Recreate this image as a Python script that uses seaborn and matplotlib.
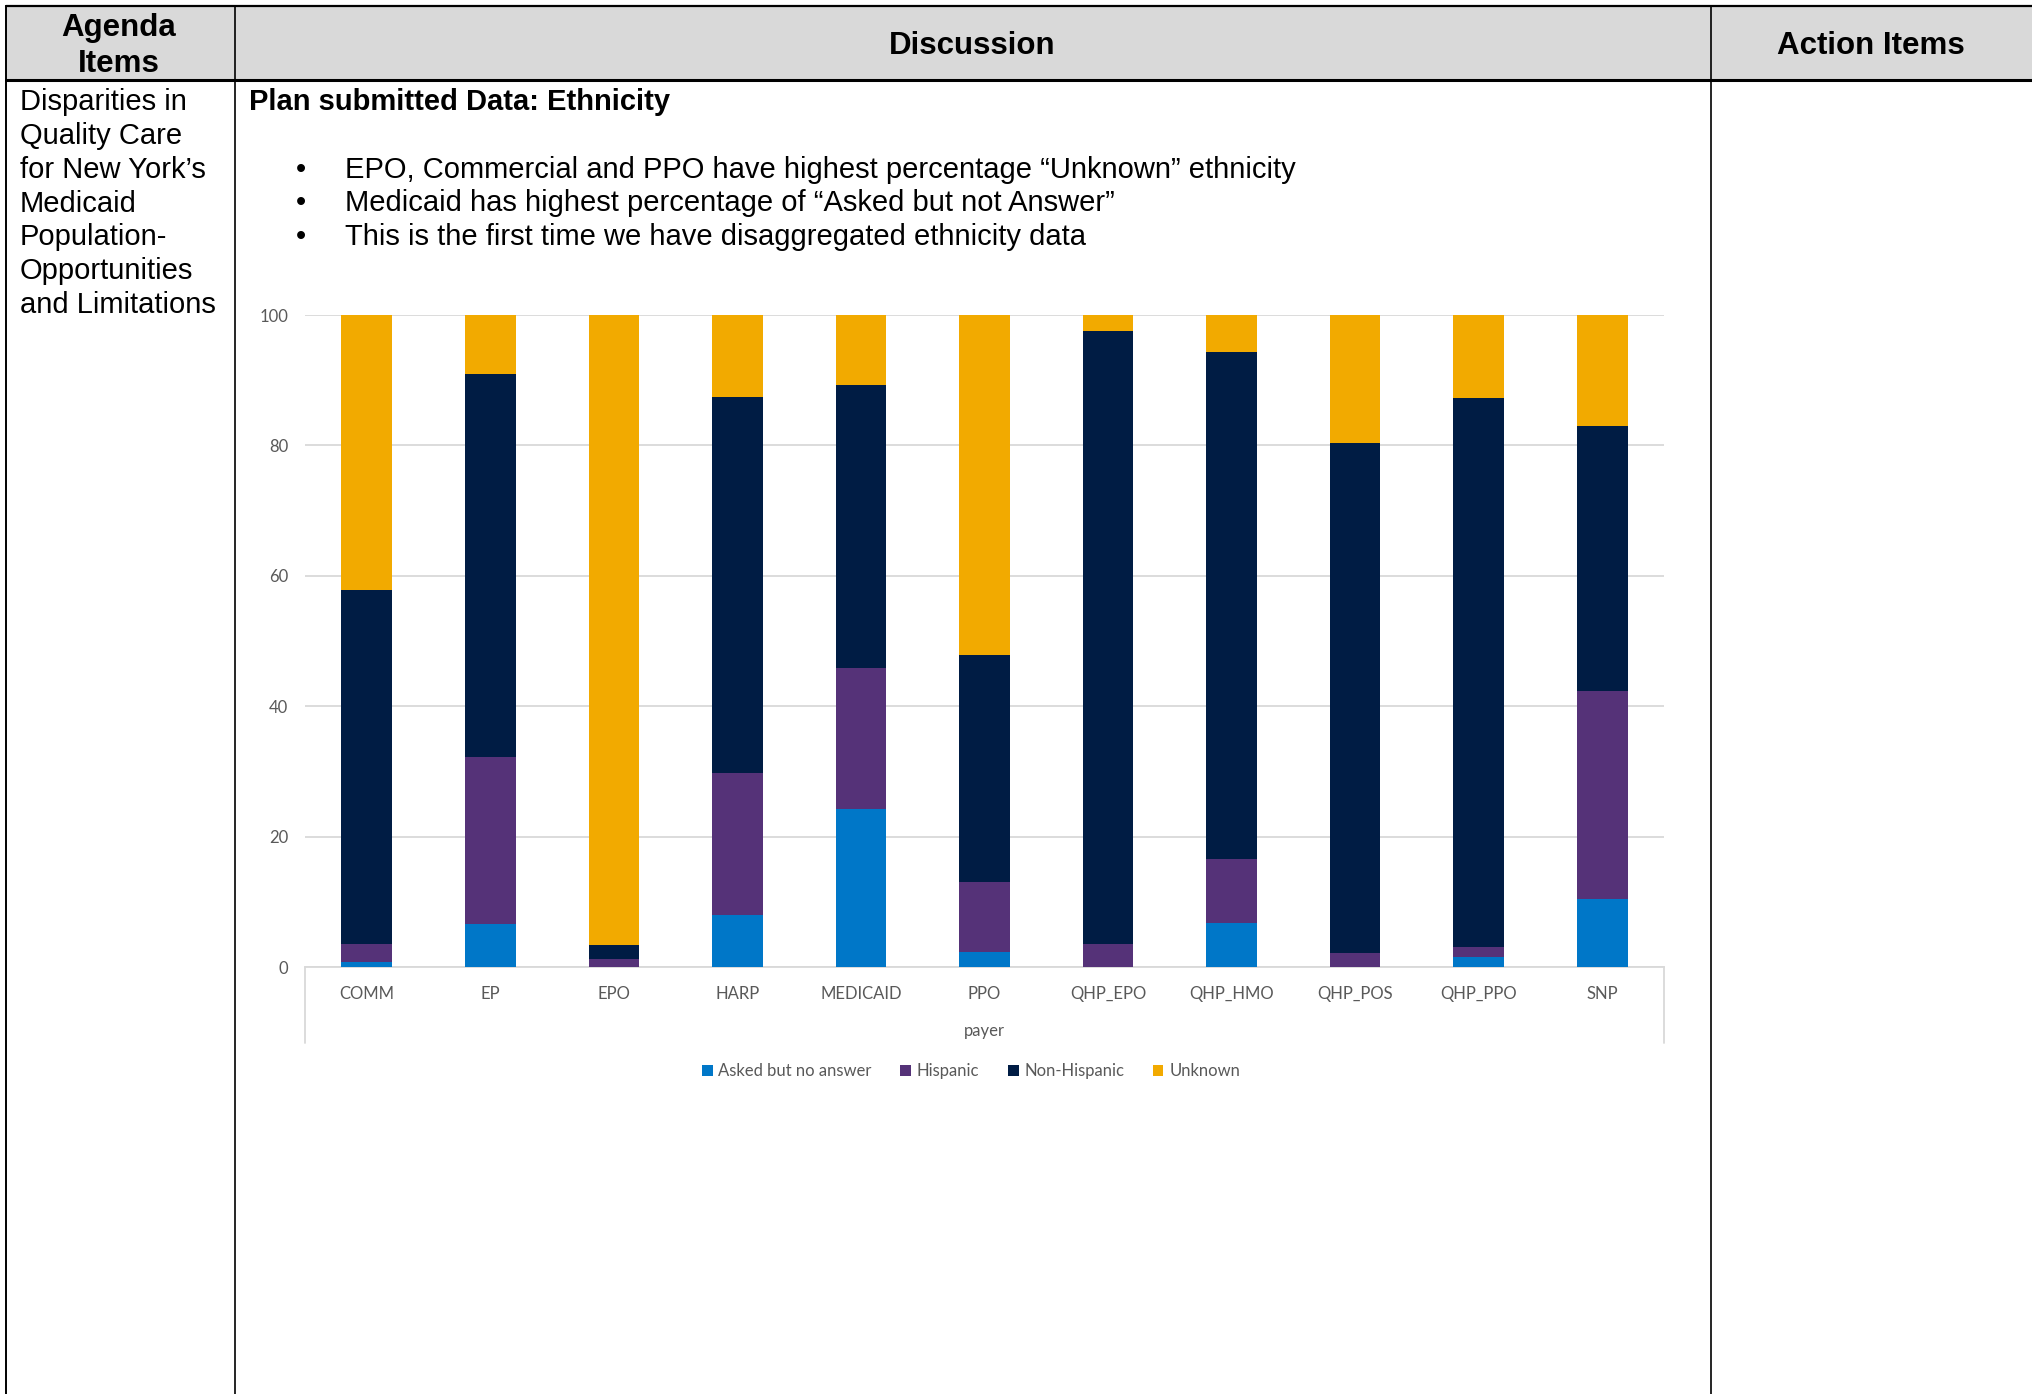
import matplotlib
matplotlib.use("Agg")
import matplotlib.pyplot as plt
from matplotlib.patches import Patch, Rectangle
from matplotlib.lines import Line2D
import seaborn as sns
import pandas as pd
import numpy as np

# ---------------- data ----------------
payers = ["COMM", "EP", "EPO", "HARP", "MEDICAID", "PPO",
          "QHP_EPO", "QHP_HMO", "QHP_POS", "QHP_PPO", "SNP"]
asked_no_answer = [0.7, 6.6, 0.0, 7.9, 24.3, 2.3, 0.0, 6.8, 0.0, 1.6, 10.5]
hispanic        = [2.9, 25.6, 1.2, 21.9, 21.6, 10.7, 3.6, 9.8, 2.1, 1.4, 31.9]
non_hispanic    = [54.2, 58.7, 2.1, 57.7, 43.4, 34.8, 93.9, 77.8, 78.3, 84.2, 40.6]
unknown         = [42.2, 9.1, 96.7, 12.5, 10.7, 52.2, 2.5, 5.6, 19.6, 12.8, 17.0]
series_names = ["Asked but no answer", "Hispanic", "Non-Hispanic", "Unknown"]
series_colors = ["#0077C8", "#553278", "#001C44", "#F2AA00"]
y_ticks = [0, 20, 40, 60, 80, 100]

header_texts = ["Agenda\nItems", "Discussion", "Action Items"]
agenda_text = ["Disparities in", "Quality Care", "for New York\u2019s", "Medicaid",
               "Population-", "Opportunities", "and Limitations"]
section_title = "Plan submitted Data: Ethnicity"
bullets = ["EPO, Commercial and PPO have highest percentage \u201cUnknown\u201d ethnicity",
           "Medicaid has highest percentage of \u201cAsked but not Answer\u201d",
           "This is the first time we have disaggregated ethnicity data"]

# ---------------- figure ----------------
sns.set_theme(style="white")
plt.rcParams['font.family'] = ['Liberation Sans', 'DejaVu Sans']
plt.rcParams['text.color'] = 'black'

W, H = 2032, 1394
fig = plt.figure(figsize=(W / 100, H / 100), dpi=100)
fig.patch.set_facecolor("white")

# background "table" axes in pixel coords
bg = fig.add_axes([0, 0, 1, 1], zorder=0)
bg.set_xlim(0, W)
bg.set_ylim(H, 0)
bg.axis("off")

left_x, top_y = 6, 6
col1, col2 = 234.5, 1710.5
head_bot = 80
bg.add_patch(Rectangle((left_x, top_y), W - left_x, head_bot - top_y,
                       facecolor="#D9D9D9", edgecolor="none"))
bg.plot([left_x, W], [top_y, top_y], color="black", lw=1.6)
bg.plot([left_x, W], [head_bot, head_bot], color="black", lw=2.2)
bg.plot([left_x, left_x], [top_y, H], color="black", lw=1.4)
bg.plot([col1, col1], [top_y, H], color="black", lw=1.2)
bg.plot([col2, col2], [top_y, H], color="black", lw=1.2)

bg.text(119, 46, header_texts[0], ha="center", va="center", fontsize=22.5,
        fontweight="bold", linespacing=1.25, color="black")
bg.text(972, 46, header_texts[1], ha="center", va="center", fontsize=22.5,
        fontweight="bold", color="black")
bg.text(1871, 46, header_texts[2], ha="center", va="center", fontsize=22.5,
        fontweight="bold", color="black")

for i, line in enumerate(agenda_text):
    bg.text(20, 102.5 + i * 33.7, line, ha="left", va="center", fontsize=21,
            color="black")

bg.text(249, 102.5, section_title, ha="left", va="center", fontsize=21,
        fontweight="bold", color="black")
for i, b in enumerate(bullets):
    y = 169.5 + i * 33.7
    bg.text(301, y, "\u2022", ha="center", va="center", fontsize=21, color="black")
    bg.text(345, y, b, ha="left", va="center", fontsize=21, color="black")

# ---------------- chart ----------------
ax_l, ax_r = 305, 1664
ax_t, ax_b = 315, 967
ax = fig.add_axes([ax_l / W, 1 - ax_b / H, (ax_r - ax_l) / W, (ax_b - ax_t) / H],
                  zorder=2)
ax.patch.set_alpha(0)

df = pd.DataFrame({
    "payer": payers,
    series_names[0]: asked_no_answer,
    series_names[1]: hispanic,
    series_names[2]: non_hispanic,
    series_names[3]: unknown,
})
cum = df[series_names].cumsum(axis=1)
cum["payer"] = payers

# draw from the top-most cumulative layer down so lower layers cover upper ones
for name, color in zip(reversed(series_names), reversed(series_colors)):
    sns.barplot(data=cum, x="payer", y=name, order=payers, color=color,
                width=0.41, saturation=1, ax=ax, linewidth=0, zorder=3)

ax.set_ylim(0, 100)
ax.set_xlim(-0.5, len(payers) - 0.5)
ax.set_yticks(y_ticks)
ax.yaxis.grid(True, color="#D9D9D9", linewidth=1.3, zorder=0)
ax.set_axisbelow(True)
for s in ["top", "right", "left"]:
    ax.spines[s].set_visible(False)
ax.spines["bottom"].set_color("#D9D9D9")
ax.spines["bottom"].set_linewidth(1.3)

tick_font = ["Lato", "DejaVu Sans"]
fs = 12
ax.tick_params(axis="both", length=0, colors="#595959", labelsize=fs)
ax.tick_params(axis="x", pad=14)
ax.tick_params(axis="y", pad=12)
for lab in ax.get_xticklabels() + ax.get_yticklabels():
    lab.set_family(tick_font)
ax.set_ylabel("")
ax.set_xlabel("payer", color="#595959", fontsize=fs, family=tick_font)
ax.xaxis.set_label_coords(0.5, -(1031 - ax_b) / (ax_b - ax_t))
ax.xaxis.label.set_va("center")

# category axis frame lines
depth = (1043 - ax_b) / (ax_b - ax_t)
for xa in (0, 1):
    ax.add_line(Line2D([xa, xa], [0, -depth], transform=ax.transAxes,
                       color="#D9D9D9", lw=1.3, clip_on=False))

handles = [Patch(facecolor=c, edgecolor="none", label=n)
           for n, c in zip(series_names, series_colors)]
leg = fig.legend(handles=handles, loc="center",
                 bbox_to_anchor=(971 / W, 1 - 1071 / H), ncol=4, frameon=False,
                 prop={"family": tick_font, "size": fs},
                 handlelength=0.65, handleheight=0.65, handletextpad=0.35,
                 columnspacing=1.7)
for t in leg.get_texts():
    t.set_color("#595959")

fig.savefig("out.png", dpi=100, facecolor="white")
